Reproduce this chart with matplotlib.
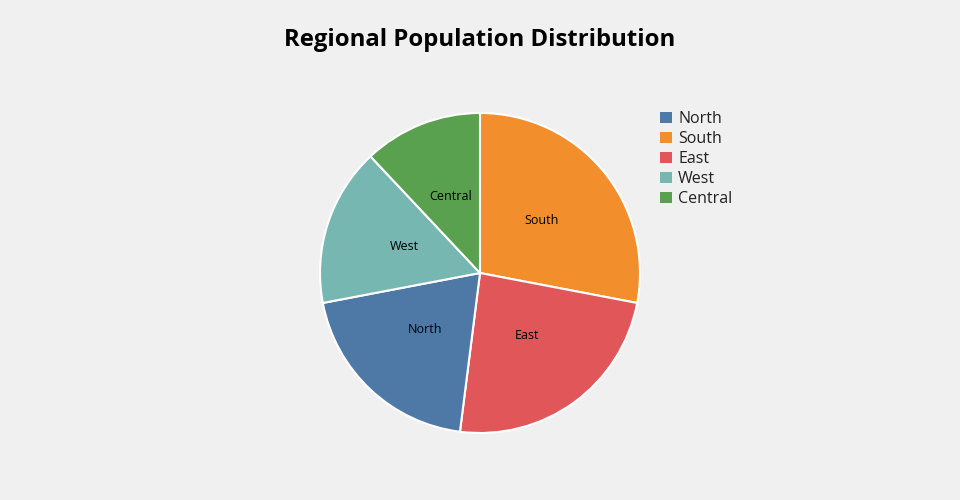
import matplotlib
matplotlib.use("Agg")
import matplotlib.pyplot as plt
import matplotlib.transforms as mtransforms
import numpy as np
from matplotlib.patches import Patch

regions = ["North", "South", "East", "West", "Central"]
population = [20, 28, 24, 16, 12]
colors = ["#4e79a7", "#f28e2b", "#e15759", "#76b7b2", "#59a14f"]

plt.rcParams['font.family'] = ['Open Sans', 'DejaVu Sans']

fig = plt.figure(figsize=(9.6, 5.0), dpi=100)
fig.patch.set_facecolor("#f0f0f0")

ax = fig.add_axes([320/960, (500-433)/500, 320/960, 320/500])
ax.set_facecolor("#f0f0f0")

# sort descending (drawn clockwise from 12 o'clock)
order = sorted(range(len(regions)), key=lambda i: -population[i])
vals = [population[i] for i in order]
cols = [colors[i] for i in order]
labs = [regions[i] for i in order]

wedges, _ = ax.pie(vals, colors=cols, startangle=90, counterclock=False,
                   radius=1.0, wedgeprops=dict(edgecolor="white", linewidth=1.5))
lab_trans = mtransforms.offset_copy(ax.transData, fig=fig, x=0, y=2, units="dots")
for w, lab in zip(wedges, labs):
    mid = np.deg2rad((w.theta1 + w.theta2) / 2)
    r = 0.5
    ax.text(r*np.cos(mid), r*np.sin(mid), lab, ha="center", va="center",
            fontsize=9, color="#000000", transform=lab_trans)
ax.set_xlim(-1, 1)
ax.set_ylim(-1, 1)
ax.set_aspect("equal")
ax.axis("off")

fig.text(0.5, 1 - 40/500, "Regional Population Distribution", ha="center", va="center",
         fontsize=17.2, fontweight="bold", color="#000000")

handles = [Patch(facecolor=c, edgecolor="none") for c in colors]
leg = fig.legend(handles, regions, loc="upper left", bbox_to_anchor=(660/960, 1 - 111/500),
                 frameon=False, fontsize=11.5, handlelength=0.75, handleheight=0.75,
                 handletextpad=0.38, labelspacing=0.25, borderaxespad=0, borderpad=0)
for t in leg.get_texts():
    t.set_color("#222222")

fig.savefig("out.png", dpi=100, facecolor=fig.get_facecolor())
